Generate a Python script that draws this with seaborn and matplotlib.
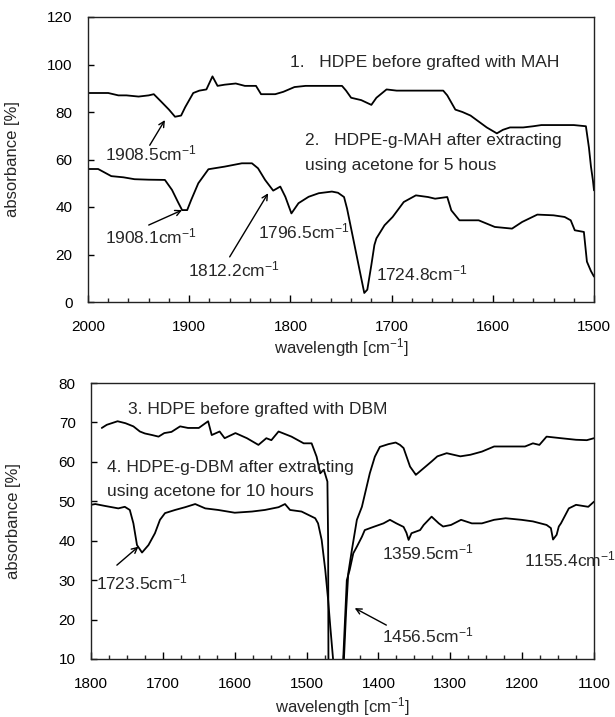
import matplotlib
matplotlib.use("Agg")
import matplotlib.pyplot as plt
import seaborn as sns
import pandas as pd
from matplotlib.ticker import MultipleLocator

# ---------------- data: top panel (MAH) ----------------
c1_x = [2000, 1990, 1980, 1970, 1962, 1950, 1940, 1935, 1928, 1920, 1914, 1908, 1904, 1900,
        1896, 1890, 1883, 1877, 1872, 1865, 1854, 1845, 1834, 1829, 1815, 1807, 1796, 1785,
        1770, 1749, 1745, 1740, 1730, 1720, 1715, 1705, 1695, 1680, 1660, 1649, 1645, 1637,
        1630, 1622, 1614, 1606, 1596, 1590, 1583, 1570, 1560, 1552, 1540, 1520, 1508, 1505,
        1503, 1501, 1500]
c1_y = [88, 88, 88, 87, 87, 86.5, 87, 87.5, 84.5, 81, 78, 78.5, 82, 85,
        88, 89, 89.5, 95, 91, 91.5, 92, 91, 91, 87.5, 87.5, 88.5, 90.5, 91,
        91, 91, 89, 86, 85, 83, 86, 89.5, 89, 89, 89, 89, 87, 81,
        80, 78.5, 76, 73.5, 71, 72.5, 73.5, 73.5, 74, 74.5, 74.5, 74.5, 74, 65,
        57, 51, 47]

c2_x = [2000, 1990, 1977, 1965, 1954, 1940, 1924, 1917, 1911, 1907, 1902, 1898, 1891, 1881,
        1865, 1848, 1838, 1832, 1825, 1817, 1810, 1805, 1799, 1792, 1782, 1772, 1759, 1753,
        1747, 1744, 1738, 1732, 1727, 1724, 1720, 1717, 1715, 1707, 1699, 1688, 1676, 1664,
        1657, 1645, 1641, 1633, 1614, 1598, 1581, 1571, 1556, 1540, 1529, 1523, 1519, 1510,
        1507, 1503, 1500]
c2_y = [56, 56, 53, 52.5, 51.7, 51.5, 51.4, 47.2, 42, 38.7, 38.7, 43, 50, 55.9,
        57, 58.4, 58.4, 56.3, 51.4, 46.9, 48.6, 44.3, 37.3, 41.6, 44.3, 45.8, 46.5, 46,
        44.2, 39.3, 26.8, 14.2, 3.8, 5.2, 15.6, 24, 26.8, 32.3, 35.8, 42.1, 44.9, 44.2,
        43.5, 44.2, 38.6, 34.4, 34.4, 31.6, 30.9, 33.7, 36.8, 36.5, 35.8, 34.4, 30.2, 29.5,
        17, 13, 10.7]

# ---------------- data: bottom panel (DBM) ----------------
c3_x = [1785, 1778, 1763, 1752, 1741, 1732, 1725, 1715, 1706, 1698, 1688, 1676, 1665, 1650,
        1637, 1632, 1621, 1614, 1599, 1583, 1567, 1556, 1549, 1539, 1521, 1504, 1493, 1486,
        1481, 1476, 1471, 1470, 1469.5, 1460, 1452, 1448, 1445, 1442, 1437, 1430, 1423, 1412,
        1405, 1398, 1386, 1376, 1370, 1365, 1356, 1349, 1348, 1337, 1326, 1318, 1305, 1286,
        1272, 1256, 1239, 1217, 1196, 1185, 1176, 1166, 1146, 1125, 1110, 1100]
c3_y = [68.6, 69.4, 70.3, 69.8, 69, 67.7, 67.2, 66.8, 66.4, 67.3, 67.6, 69, 68.6, 68.6,
        70.3, 66.8, 67.7, 66, 67.3, 66, 64.3, 66, 65.5, 67.7, 66.4, 64.7, 64.7, 61.3,
        57.1, 58, 55, 40, 5, 0, 0, 10, 22, 31.7, 37.6, 45.3, 48.6, 57.1,
        61.3, 63.8, 64.5, 64.9, 64.3, 63.5, 58.8, 57, 56.7, 58.4, 60.1, 61.4, 62.2, 61.4,
        61.8, 62.6, 63.9, 63.9, 63.9, 64.7, 64.3, 66.4, 66, 65.6, 65.5, 66]

c4_x = [1800, 1794, 1780, 1762, 1753, 1746, 1741, 1736, 1729, 1720, 1711, 1704, 1697, 1683,
        1669, 1655, 1641, 1623, 1600, 1576, 1558, 1539, 1530, 1523, 1507, 1488, 1484, 1479,
        1474, 1470, 1467, 1463, 1458, 1449, 1444, 1440, 1435, 1430, 1423, 1419, 1407, 1393,
        1384, 1375, 1365, 1361, 1358, 1354, 1342, 1337, 1326, 1316, 1310, 1299, 1285, 1270,
        1256, 1239, 1223, 1201, 1185, 1166, 1160, 1157, 1152, 1149, 1146, 1135, 1125, 1108,
        1100]
c4_y = [49.1, 49.3, 48.8, 48.2, 48.6, 47.8, 44.4, 38.9, 37, 38.9, 41.9, 45.3, 47, 47.8,
        48.5, 49.3, 48.2, 47.8, 47.1, 47.4, 47.8, 48.5, 49.3, 47.8, 47.4, 45.7, 44.4, 40.2,
        32.6, 25, 18.2, 9.7, 0, 10, 30, 32.6, 36.8, 38.5, 41, 42.7, 43.5, 44.4,
        45.3, 44.4, 43.5, 42, 40.2, 41.9, 42.7, 44, 46.1, 44.4, 43.6, 44, 45.3, 44.4,
        44.4, 45.3, 45.7, 45.3, 44.9, 44, 43.2, 40.3, 41.5, 43.6, 44.4, 48.2, 49.1, 48.6,
        49.9]

top_xticks = [2000, 1900, 1800, 1700, 1600, 1500]
top_yticks = [0, 20, 40, 60, 80, 100, 120]
bot_xticks = [1800, 1700, 1600, 1500, 1400, 1300, 1200, 1100]
bot_yticks = [10, 20, 30, 40, 50, 60, 70, 80]

sns.set_style("white")
plt.rcParams['font.family'] = ['Liberation Sans', 'DejaVu Sans']
plt.rcParams['mathtext.fontset'] = 'custom'
plt.rcParams['mathtext.rm'] = 'Liberation Sans'
plt.rcParams['mathtext.it'] = 'Liberation Sans'

W, H = 615, 717
fig = plt.figure(figsize=(W / 100, H / 100), dpi=100)
ax1 = fig.add_axes([88 / W, 1 - 302 / H, (594 - 88) / W, (302 - 17) / H])
ax2 = fig.add_axes([91 / W, 1 - 659 / H, (594 - 91) / W, (659 - 383) / H])

def draw(ax, xs, ys):
    df = pd.DataFrame({"x": xs, "y": ys})
    sns.lineplot(data=df, x="x", y="y", ax=ax, color="black", lw=1.3,
                 estimator=None, sort=False, legend=False)

draw(ax1, c1_x, c1_y)
draw(ax1, c2_x, c2_y)
draw(ax2, c3_x, c3_y)
draw(ax2, c4_x, c4_y)

FS = 11
FA = 12.5
for ax, xt, yt, xl, yl, minor in [
        (ax1, top_xticks, top_yticks, (2000, 1500), (0, 120), 20),
        (ax2, bot_xticks, bot_yticks, (1800, 1100), (10, 80), 25)]:
    ax.set_xlim(*xl)
    ax.set_ylim(*yl)
    ax.set_xticks(xt)
    ax.set_yticks(yt)
    ax.xaxis.set_minor_locator(MultipleLocator(minor))
    ax.tick_params(axis='x', which='major', direction='in', length=5, width=1,
                   bottom=True, top=False, pad=13, labelsize=FS, colors='black')
    ax.tick_params(axis='x', which='minor', direction='in', length=3, width=1,
                   bottom=True, top=False)
    ax.tick_params(axis='y', which='major', direction='in', length=4, width=1,
                   left=True, right=False, pad=11, labelsize=FS, colors='black')
    for s in ax.spines.values():
        s.set_visible(True)
        s.set_color('#222222')
        s.set_linewidth(1.0)
    ax.set_xlabel("wavelength [cm$^{-1}$]", fontsize=FS + 1)
    ax.set_ylabel("absorbance [%]", fontsize=FS + 1)
    ax.grid(False)

ax1.xaxis.set_label_coords(0.5, -0.12)
ax1.yaxis.set_label_coords(-0.135, 0.5)
ax2.xaxis.set_label_coords(0.5, -0.13)
ax2.yaxis.set_label_coords(-0.14, 0.5)

arrow = dict(arrowstyle='->', lw=1.0, color='black', shrinkA=0, shrinkB=0)

# top annotations
ax1.text(1800, 101, "1.   HDPE before grafted with MAH", fontsize=FA, va='center')
ax1.text(1786, 68, "2.   HDPE-g-MAH after extracting", fontsize=FA, va='center')
ax1.text(1786, 57.6, "using acetone for 5 hous", fontsize=FA, va='center')
ax1.text(1983, 62.7, "1908.5cm$^{-1}$", fontsize=FA, va='center')
ax1.text(1983, 27.5, "1908.1cm$^{-1}$", fontsize=FA, va='center')
ax1.text(1901, 13.5, "1812.2cm$^{-1}$", fontsize=FA, va='center')
ax1.text(1832, 29.6, "1796.5cm$^{-1}$", fontsize=FA, va='center')
ax1.text(1715, 12, "1724.8cm$^{-1}$", fontsize=FA, va='center')
ax1.annotate("", xy=(1924, 76.6), xytext=(1939, 66), arrowprops=arrow)
ax1.annotate("", xy=(1907, 38.7), xytext=(1940, 32.4), arrowprops=arrow)
ax1.annotate("", xy=(1822, 45.8), xytext=(1860, 19), arrowprops=arrow)

# bottom annotations
ax2.text(1749, 73.2, "3. HDPE before grafted with DBM", fontsize=FA, va='center')
ax2.text(1778, 58.6, "4. HDPE-g-DBM after extracting", fontsize=FA, va='center')
ax2.text(1778, 52.4, "using acetone for 10 hours", fontsize=FA, va='center')
ax2.text(1793, 29.3, "1723.5cm$^{-1}$", fontsize=FA, va='center')
ax2.text(1395, 36.9, "1359.5cm$^{-1}$", fontsize=FA, va='center')
ax2.text(1198, 35.2, "1155.4cm$^{-1}$", fontsize=FA, va='center')
ax2.text(1395, 15.9, "1456.5cm$^{-1}$", fontsize=FA, va='center')
ax2.annotate("", xy=(1734, 38.5), xytext=(1764, 33.8), arrowprops=arrow)
ax2.annotate("", xy=(1433, 22.9), xytext=(1389, 18.6), arrowprops=arrow)

fig.savefig("out.png", dpi=100, facecolor='white')
